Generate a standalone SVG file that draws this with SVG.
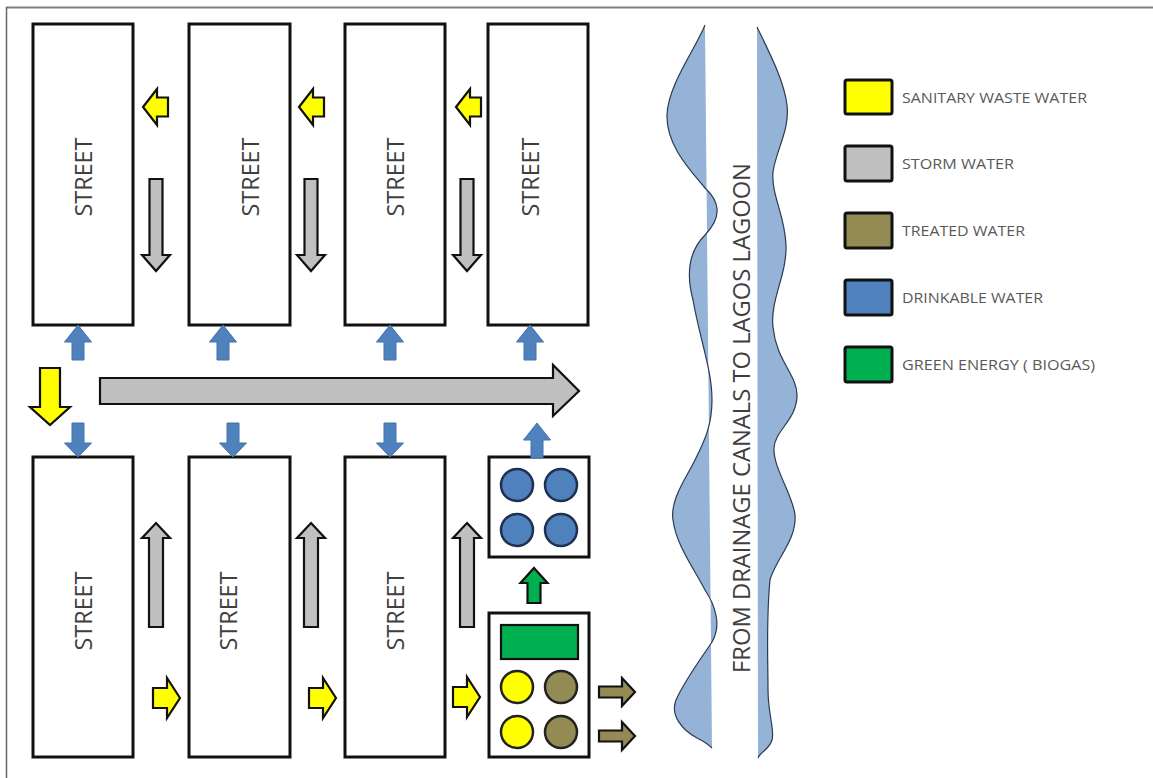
<svg xmlns="http://www.w3.org/2000/svg" xmlns:xlink="http://www.w3.org/1999/xlink" width="1153" height="778" viewBox="0 0 1153 778">
<style>
.street{fill:#fff;stroke:#111;stroke-width:3}
.lbl{font-family:"Open Sans","Liberation Sans",sans-serif;fill:#404040}
.st{font-size:23px}
.leg{font-size:15px;fill:#595959}
.sw{stroke:#111;stroke-width:3}
.yel{fill:#ffff00;stroke:#111;stroke-width:2.2;stroke-linejoin:miter}
.gry{fill:#c0c0c0;stroke:#111;stroke-width:2.2;stroke-linejoin:miter}
.blu{fill:#4f81bd;stroke:#4372ad;stroke-width:1}
.grn{fill:#00b050;stroke:#111;stroke-width:2.2}
.olv{fill:#948a54;stroke:#111;stroke-width:2.2}
.bcirc{fill:#4f81bd;stroke:#1f3050;stroke-width:2.5}
.ycirc{fill:#ffff00;stroke:#222;stroke-width:2.5}
.ocirc{fill:#948a54;stroke:#222;stroke-width:2.5}
.rfill{fill:#95b3d7;stroke:none}
.redge{fill:none;stroke:#2a3a50;stroke-width:1.2}
</style>
<defs>
<polygon id="gDown" points="-6.5,0 6.5,0 6.5,76 14,76 0,92 -14,76 -6.5,76"/>
<polygon id="gUp" points="0,0 14,15 7,15 7,104 -7,104 -7,15 -14,15"/>
<polygon id="yLeft" points="0,0 14,-18 14,-9.5 25,-9.5 25,9.5 14,9.5 14,18"/>
<polygon id="yRight" points="0,0 -13,-20 -13,-10 -27,-10 -27,10 -13,10 -13,20"/>
<polygon id="bUp" points="0,0 13.5,17 6,17 6,35 -6,35 -6,17 -13.5,17"/>
<polygon id="bDown" points="0,0 -13.5,-14 -6,-14 -6,-34 6,-34 6,-14 13.5,-14"/>
<polygon id="oRight" points="0,0 -13,-14 -13,-5.5 -36,-5.5 -36,5.5 -13,5.5 -13,14"/>
</defs>
<rect width="1153" height="778" fill="#fff"/>
<g id="frame" fill="none" stroke="#808080">
<line x1="6" y1="7.5" x2="1153" y2="7.5" stroke-width="2"/>
<line x1="6.5" y1="7" x2="6.5" y2="778" stroke-width="1.5" stroke="#666"/>
</g>

<g id="river">
<path class="rfill" d="M705,25 C695,50 668,85 667,115 C666,145 690,170 705,188 C718,200 724,215 705,235 C690,250 685,270 693,300 C700,340 712,370 712,400 C712,425 705,440 695,460 C685,480 670,500 673,520 C676,545 695,570 705,590 C715,605 722,625 712,642 C700,660 685,680 676,700 C670,715 682,730 697,738 C705,742 710,746 712,748 Z"/>
<path class="redge" d="M705,25 C695,50 668,85 667,115 C666,145 690,170 705,188 C718,200 724,215 705,235 C690,250 685,270 693,300 C700,340 712,370 712,400 C712,425 705,440 695,460 C685,480 670,500 673,520 C676,545 695,570 705,590 C715,605 722,625 712,642 C700,660 685,680 676,700 C670,715 682,730 697,738 C705,742 710,746 712,748"/>
<path class="rfill" d="M757,27 C768,50 784,80 787,105 C790,130 776,150 773,172 C771,195 785,215 786,245 C787,275 770,300 773,327 C776,360 797,375 797,395 C797,420 775,430 774,448 C773,468 793,495 795,515 C797,540 775,560 770,580 C766,620 768,660 768,690 C768,715 775,730 772,740 C769,750 760,752 758,758 Z"/>
<path class="redge" d="M757,27 C768,50 784,80 787,105 C790,130 776,150 773,172 C771,195 785,215 786,245 C787,275 770,300 773,327 C776,360 797,375 797,395 C797,420 775,430 774,448 C773,468 793,495 795,515 C797,540 775,560 770,580 C766,620 768,660 768,690 C768,715 775,730 772,740 C769,750 760,752 758,758"/>
<text class="lbl" font-size="24" fill="#333" transform="translate(740,418) rotate(-90)" text-anchor="middle" dominant-baseline="central" textLength="510" lengthAdjust="spacingAndGlyphs">FROM DRAINAGE CANALS TO LAGOS LAGOON</text>
</g>

<g id="street-t1"><rect class="street" x="33" y="24" width="100" height="301"/><text class="lbl st" transform="translate(83,177) rotate(-90)" text-anchor="middle" dominant-baseline="central" textLength="79" lengthAdjust="spacingAndGlyphs">STREET</text></g>
<g id="street-t2"><rect class="street" x="189" y="24" width="101" height="301"/><text class="lbl st" transform="translate(250,177) rotate(-90)" text-anchor="middle" dominant-baseline="central" textLength="79" lengthAdjust="spacingAndGlyphs">STREET</text></g>
<g id="street-t3"><rect class="street" x="345" y="24" width="100" height="301"/><text class="lbl st" transform="translate(395,177) rotate(-90)" text-anchor="middle" dominant-baseline="central" textLength="79" lengthAdjust="spacingAndGlyphs">STREET</text></g>
<g id="street-t4"><rect class="street" x="488" y="24" width="100" height="301"/><text class="lbl st" transform="translate(530,177) rotate(-90)" text-anchor="middle" dominant-baseline="central" textLength="79" lengthAdjust="spacingAndGlyphs">STREET</text></g>
<g id="street-b1"><rect class="street" x="33" y="457" width="100" height="300"/><text class="lbl st" transform="translate(83,611) rotate(-90)" text-anchor="middle" dominant-baseline="central" textLength="79" lengthAdjust="spacingAndGlyphs">STREET</text></g>
<g id="street-b2"><rect class="street" x="189" y="457" width="101" height="300"/><text class="lbl st" transform="translate(228,611) rotate(-90)" text-anchor="middle" dominant-baseline="central" textLength="79" lengthAdjust="spacingAndGlyphs">STREET</text></g>
<g id="street-b3"><rect class="street" x="345" y="457" width="100" height="300"/><text class="lbl st" transform="translate(395,611) rotate(-90)" text-anchor="middle" dominant-baseline="central" textLength="79" lengthAdjust="spacingAndGlyphs">STREET</text></g>

<g id="drinking-plant">
<rect class="street" x="489" y="457" width="100" height="100"/>
<circle class="bcirc" cx="517" cy="485" r="16"/><circle class="bcirc" cx="561" cy="485" r="16"/>
<circle class="bcirc" cx="517" cy="530" r="16"/><circle class="bcirc" cx="561" cy="530" r="16"/>
</g>
<g id="treatment-plant">
<rect class="street" x="489" y="613" width="100" height="144"/>
<rect class="grn" x="501" y="625" width="77" height="34" stroke-width="3"/>
<circle class="ycirc" cx="517" cy="687" r="16"/><circle class="ocirc" cx="561" cy="687" r="16"/>
<circle class="ycirc" cx="517" cy="732" r="16"/><circle class="ocirc" cx="561" cy="732" r="16"/>
</g>

<g id="connectors">
<use href="#gDown" class="gry" transform="translate(156,179)"/>
<use href="#gDown" class="gry" transform="translate(311,179)"/>
<use href="#gDown" class="gry" transform="translate(467,179)"/>
<use href="#gUp" class="gry" transform="translate(156,523)"/>
<use href="#gUp" class="gry" transform="translate(311,523)"/>
<use href="#gUp" class="gry" transform="translate(467,523)"/>
<use href="#yLeft" class="yel" transform="translate(143,107)"/>
<use href="#yLeft" class="yel" transform="translate(299,107)"/>
<use href="#yLeft" class="yel" transform="translate(456,107)"/>
<use href="#yRight" class="yel" transform="translate(180,698)"/>
<use href="#yRight" class="yel" transform="translate(336,698)"/>
<use href="#yRight" class="yel" transform="translate(480,697)"/>
<use href="#bUp" class="blu" transform="translate(78,325)"/>
<use href="#bUp" class="blu" transform="translate(223,325)"/>
<use href="#bUp" class="blu" transform="translate(390,325)"/>
<use href="#bUp" class="blu" transform="translate(530,325)"/>
<use href="#bUp" class="blu" transform="translate(537,423)"/>
<use href="#bDown" class="blu" transform="translate(78,457)"/>
<use href="#bDown" class="blu" transform="translate(233,457)"/>
<use href="#bDown" class="blu" transform="translate(390,457)"/>
<polygon class="grn" points="534,568 547.5,583 540.5,583 540.5,603 527.5,603 527.5,583 520.5,583"/>
<use href="#oRight" class="olv" transform="translate(635,692)"/>
<use href="#oRight" class="olv" transform="translate(635,736)"/>
<polygon class="yel" points="40,368 60,368 60,407 70,407 50,425 30,407 40,407" stroke-width="2.5"/>
<polygon class="gry" points="100,378 553,378 553,365 579,391 553,416 553,404 100,404" stroke-width="3"/>
</g>

<g id="legend">
<g id="leg-sanitary"><rect class="sw" x="845" y="80" width="47" height="34" rx="2" fill="#ffff00"/><text class="lbl leg" x="902" y="97" dominant-baseline="central" textLength="185" lengthAdjust="spacingAndGlyphs">SANITARY WASTE WATER</text></g>
<g id="leg-storm"><rect class="sw" x="845" y="146" width="47" height="35" rx="2" fill="#c0c0c0"/><text class="lbl leg" x="902" y="163" dominant-baseline="central" textLength="112" lengthAdjust="spacingAndGlyphs">STORM WATER</text></g>
<g id="leg-treated"><rect class="sw" x="845" y="213" width="47" height="35" rx="2" fill="#948a54"/><text class="lbl leg" x="902" y="230" dominant-baseline="central" textLength="123" lengthAdjust="spacingAndGlyphs">TREATED WATER</text></g>
<g id="leg-drinkable"><rect class="sw" x="845" y="280" width="47" height="35" rx="2" fill="#4f81bd"/><text class="lbl leg" x="902" y="297" dominant-baseline="central" textLength="141" lengthAdjust="spacingAndGlyphs">DRINKABLE WATER</text></g>
<g id="leg-green"><rect class="sw" x="845" y="347" width="47" height="35" rx="2" fill="#00b050"/><text class="lbl leg" x="902" y="364" dominant-baseline="central" textLength="193" lengthAdjust="spacingAndGlyphs">GREEN ENERGY ( BIOGAS)</text></g>
</g>
</svg>
